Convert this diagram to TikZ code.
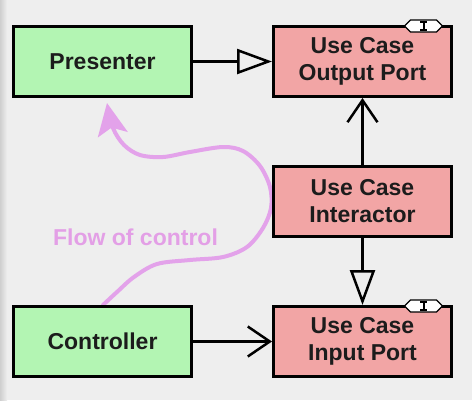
\documentclass[tikz,border=0pt]{standalone}
\usepackage{fontspec}
\setmainfont{Liberation Sans}
\usetikzlibrary{arrows.meta}
\definecolor{bg}{HTML}{EEEEEE}
\definecolor{bgdark}{HTML}{CFCFCF}
\definecolor{gfill}{HTML}{B3F5B3}
\definecolor{rfill}{HTML}{F2A5A5}
\definecolor{flowc}{HTML}{E3A2EA}
\definecolor{flowt}{HTML}{E39FE6}
\definecolor{txt}{HTML}{1C1C1C}
\tikzset{
  box/.style={draw=black, line width=3pt, minimum width=178pt, minimum height=70pt,
    inner sep=0pt, align=center, font=\fontsize{23}{27}\selectfont\bfseries, text=txt},
  gbox/.style={box, fill=gfill},
  rbox/.style={box, fill=rfill},
  conn/.style={line width=2.5pt, draw=black},
  realize/.style={conn, -{Triangle[open, length=35pt, width=25pt]}},
  uses/.style={conn, -{Straight Barb[length=22pt, width=30pt]}},
  flowline/.style={draw=flowc, line width=4pt, line cap=round,
    -{Stealth[length=32pt, width=30pt, inset=7pt]}},
  iface/.pic={
    \draw[fill=white, line width=1.4pt] (-19,0) -- (-13,-6) -- (13,-6) -- (19,0) -- (13,6) -- (-13,6) -- cycle;
    \draw[line width=2pt] (0,-4) -- (0,4);
    \draw[line width=1.5pt] (-3.5,-4) -- (3.5,-4) (-3.5,4) -- (3.5,4);
  }
}
\begin{document}
\begin{tikzpicture}[x=1pt, y=-1pt]
  \fill[bg] (0,0) rectangle (472,400);
  \shade[left color=bgdark, right color=bg] (0,0) rectangle (7,400);
  \useasboundingbox (0,0) rectangle (472,400);

  % flow of control curve (behind boxes)
  \coordinate (flowtip) at (107,103);
  \coordinate (flowstart) at (103,305);
  \draw[flowline] plot[smooth, tension=0.55] coordinates {
    (flowstart) (117,292) (134,277) (157,264) (190,260) (223,257) (247,247)
    (263,228) (271,208) (270,187) (260,166) (243,151) (223,147) (190,152)
    (163,157) (140,155) (124,145) (113,128) (flowtip)};
  \node[font=\fontsize{23}{27}\selectfont\bfseries, text=flowt, anchor=base] (flowlbl) at (135.5,245.5) {Flow of control};

  % boxes
  \node[gbox] (pres) at (102.5,61.5) {Presenter};
  \node[gbox] (ctrl) at (102.5,341.5) {Controller};
  \node[rbox] (outp) at (362.5,61.5) {Use Case\\Output Port};
  \node[rbox] (inter) at (362.5,201.5) {Use Case\\Interactor};
  \node[rbox] (inp) at (362.5,341.5) {Use Case\\Input Port};

  % interface markers
  \pic at (423.5,26) {iface};
  \pic at (423.5,306) {iface};

  % connectors
  \draw[realize] (pres.east) -- (outp.west);
  \draw[uses] (inter.north) -- (outp.south);
  \draw[realize] (inter.south) -- (inp.north);
  \draw[uses] (ctrl.east) -- (inp.west);
\end{tikzpicture}
\end{document}
